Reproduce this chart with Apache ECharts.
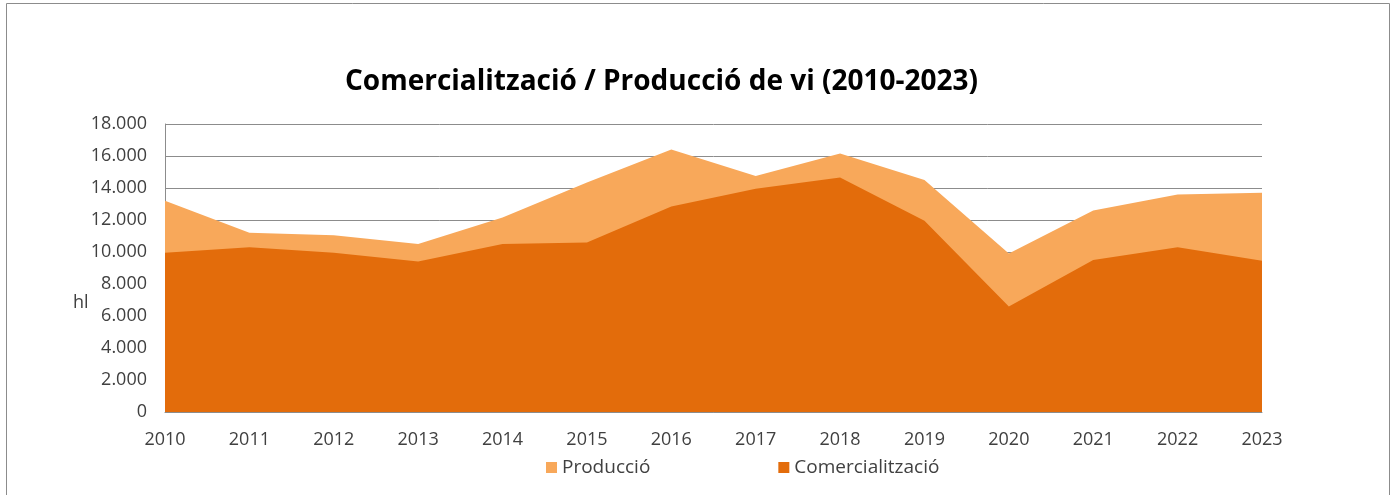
<!DOCTYPE html>
<html>
<head>
<meta charset="utf-8">
<script src="https://cdn.jsdelivr.net/npm/echarts@6/dist/echarts.min.js"></script>
<style>
    html, body { margin: 0; padding: 0; background: #fff; }
    #chart { width: 1397px; height: 495px; }
</style>
</head>
<body>
<div id="chart"></div>
<script>
// anys
var years = ['2010', '2011', '2012', '2013', '2014', '2015', '2016',
    '2017', '2018', '2019', '2020', '2021', '2022', '2023'];
// hl
var produccio = [13200, 11200, 11050, 10500, 12150, 14350, 16400,
    14750, 16150, 14500, 9900, 12600, 13600, 13700];
var comercialitzacio = [9950, 10300, 9950, 9400, 10500, 10600, 12850,
    13950, 14650, 11950, 6600, 9500, 10300, 9450];

var textColor = '#404040';

function formatMiles(v) {
    return String(v).replace(/\B(?=(\d{3})+(?!\d))/g, '.');
}

var chart = echarts.init(document.getElementById('chart'), null, { renderer: 'canvas' });
var option = {
    animation: false,
    backgroundColor: '#fff',
    textStyle: { fontFamily: 'Open Sans' },
    title: {
        text: 'Comercialització / Producció de vi (2010-2023)',
        left: 340,
        top: 63,
        textStyle: {
            fontFamily: 'Open Sans',
            fontSize: 28,
            fontWeight: 'bold',
            color: '#000'
        }
    },
    graphic: [{
        type: 'rect',
        shape: { x: 6.5, y: 3.5, width: 1383, height: 600 },
        style: { fill: 'none', stroke: '#8c8c8c', lineWidth: 1 },
        silent: true
    }, {
        // titol de l'eix Y
        type: 'text',
        left: 73,
        top: 294,
        style: {
            text: 'hl',
            fill: textColor,
            font: '18px "Open Sans"'
        },
        silent: true
    }],
    legend: {
        left: 546,
        top: 458,
        padding: 0,
        itemWidth: 11,
        itemHeight: 11,
        itemGap: 128,
        icon: 'rect',
        textStyle: { color: textColor, fontSize: 19 },
        data: ['Producció', 'Comercialització']
    },
    grid: {
        left: 165,
        right: 135,
        top: 124,
        bottom: 83,
        containLabel: false
    },
    xAxis: {
        type: 'category',
        boundaryGap: false,
        data: years,
        axisLine: { lineStyle: { color: '#8c8c8c', width: 1 } },
        axisTick: { show: false },
        axisLabel: { color: textColor, fontSize: 18, margin: 19 },
        splitLine: { show: false }
    },
    yAxis: {
        type: 'value',
        min: 0,
        max: 18000,
        interval: 2000,
        axisLine: { show: true, lineStyle: { color: '#8c8c8c', width: 1 } },
        axisTick: { show: false },
        axisLabel: {
            color: textColor,
            fontSize: 18,
            margin: 18,
            formatter: formatMiles
        },
        splitLine: { lineStyle: { color: '#8c8c8c', width: 1 } }
    },
    series: [{
        name: 'Producció',
        type: 'line',
        data: produccio,
        symbol: 'none',
        lineStyle: { width: 0 },
        itemStyle: { color: '#F8A85A' },
        areaStyle: { color: '#F8A85A', opacity: 1 },
        z: 2
    }, {
        name: 'Comercialització',
        type: 'line',
        data: comercialitzacio,
        symbol: 'none',
        lineStyle: { width: 0 },
        itemStyle: { color: '#E36C0B' },
        areaStyle: { color: '#E36C0B', opacity: 1 },
        z: 3
    }]
};
chart.setOption(option);
</script>
</body>
</html>
